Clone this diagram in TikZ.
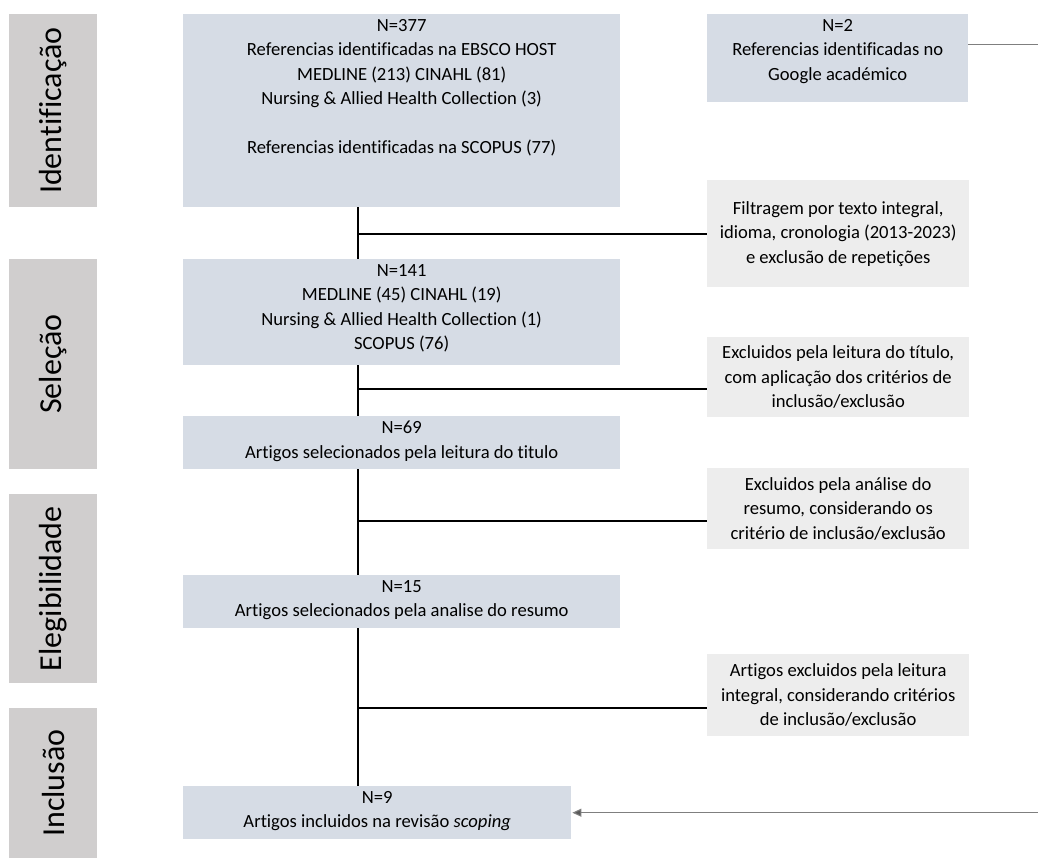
\documentclass[tikz,border=0pt]{standalone}
\usepackage{fontspec}
\setmainfont{Carlito}[Ligatures=NoCommon]
\usetikzlibrary{arrows.meta,calc}

\definecolor{phase}{HTML}{D0CECE}
\definecolor{flow}{HTML}{D6DCE5}
\definecolor{side}{HTML}{EDEDED}
\definecolor{thinline}{HTML}{7F7F7F}
\definecolor{tipcol}{HTML}{595959}

\newcommand\bodyfont{\fontsize{18.6}{24.5}\selectfont}
\newcommand\phasefont{\fontsize{32}{36}\selectfont}

\begin{document}
\begin{tikzpicture}[x=1pt,y=-1pt,
  phasebox/.style={fill=phase, draw=none, inner sep=0pt, anchor=north west, font=\phasefont},
  flowbox/.style={fill=flow, draw=none, inner sep=0pt, anchor=north west},
  sidebox/.style={fill=side, draw=none, inner sep=0pt, anchor=north west,
    align=center, font=\bodyfont, minimum width=262pt},
  flowtext/.style={anchor=north, align=center, font=\bodyfont, inner sep=0pt},
  link/.style={line width=2.2pt, black},
  feed/.style={line width=1.1pt, thinline},
]
\clip (0,0) rectangle (1038,859);

% phase labels on the left
\node[phasebox, minimum width=88pt, minimum height=193pt] (p1) at (9,14) {};
\node[rotate=90, font=\phasefont, inner sep=0pt] (p1t) at (p1.center) {Identificação};
\node[phasebox, minimum width=88pt, minimum height=210pt] (p2) at (9,259) {};
\node[rotate=90, font=\phasefont, inner sep=0pt] (p2t) at (p2.center) {Seleção};
\node[phasebox, minimum width=88pt, minimum height=189pt] (p3) at (9,494) {};
\node[rotate=90, font=\phasefont, inner sep=0pt] (p3t) at (p3.center) {Elegibilidade};
\node[phasebox, minimum width=88pt, minimum height=150pt] (p4) at (9,708) {};
\node[rotate=90, font=\phasefont, inner sep=0pt] (p4t) at (p4.center) {Inclusão};

% main flow boxes
\node[flowbox, minimum width=437pt, minimum height=193pt] (b1) at (183,14) {};
\node[flowtext] (b1t) at ([yshift=-5pt]b1.north) {N=377\\
  Referencias identificadas na EBSCO HOST\\
  MEDLINE (213) CINAHL (81)\\
  Nursing \& Allied Health Collection (3)\\[24.5pt]
  Referencias identificadas na SCOPUS (77)};

\node[flowbox, minimum width=437pt, minimum height=106pt] (b2) at (183,259) {};
\node[flowtext] (b2t) at ([yshift=-5pt]b2.north) {N=141\\
  MEDLINE (45) CINAHL (19)\\
  Nursing \& Allied Health Collection (1)\\
  SCOPUS (76)};

\node[flowbox, minimum width=437pt, minimum height=53pt] (b3) at (183,416) {};
\node[flowtext] (b3t) at ([yshift=-5pt]b3.north) {N=69\\
  Artigos selecionados pela leitura do titulo};

\node[flowbox, minimum width=437pt, minimum height=53pt] (b4) at (183,575) {};
\node[flowtext] (b4t) at ([yshift=-5pt]b4.north) {N=15\\
  Artigos selecionados pela analise do resumo};

\node[flowbox, minimum width=388pt, minimum height=53pt] (b5) at (183,786) {};
\node[flowtext] (b5t) at ([yshift=-5pt]b5.north) {N=9\\
  Artigos incluidos na revisão \textit{scoping}};

% additional source
\node[flowbox, minimum width=261pt, minimum height=88pt] (n2) at (707,14) {};
\node[flowtext] (n2t) at ([yshift=-5pt]n2.north) {N=2\\
  Referencias identificadas no\\
  Google académico};

% exclusion boxes on the right
\node[sidebox, minimum height=107pt] (r1) at (707,180)
  {Filtragem por texto integral,\\idioma, cronologia (2013-2023)\\e exclusão de repetições};
\node[sidebox, minimum height=80pt] (r2) at (707,337)
  {Excluidos pela leitura do título,\\com aplicação dos critérios de\\inclusão/exclusão};
\node[sidebox, minimum height=81pt] (r3) at (707,468)
  {Excluidos pela análise do\\resumo, considerando os\\critério de inclusão/exclusão};
\node[sidebox, minimum height=82pt] (r4) at (707,654)
  {Artigos excluidos pela leitura\\integral, considerando critérios\\de inclusão/exclusão};

% spine and branch points
\coordinate (spine) at (358,0);
\coordinate (r1c) at (r1.west);
\coordinate (r2c) at ([yshift=-12pt]r2.west);
\coordinate (r3c) at ([yshift=-12pt]r3.west);
\coordinate (r4c) at ([yshift=-13pt]r4.west);

\draw[link] (b1.south -| spine) -- (b2.north -| spine);
\draw[link] (b2.south -| spine) -- (b3.north -| spine);
\draw[link] (b3.south -| spine) -- (b4.north -| spine);
\draw[link] (b4.south -| spine) -- (b5.north -| spine);

\draw[link] (spine |- r1c) -- (r1c);
\draw[link] (spine |- r2c) -- (r2c);
\draw[link] (spine |- r3c) -- (r3c);
\draw[link] (spine |- r4c) -- (r4c);

% feed from the additional source into the final set
\coordinate (n2out) at ([yshift=14pt]n2.east);
\coordinate (edge) at (1080,0);
\draw[feed, -{Triangle[length=9pt,width=8pt,fill=tipcol]}]
  (n2out) -- (n2out -| edge) -- (edge |- b5.east) -- ([xshift=1pt]b5.east);
\end{tikzpicture}
\end{document}
